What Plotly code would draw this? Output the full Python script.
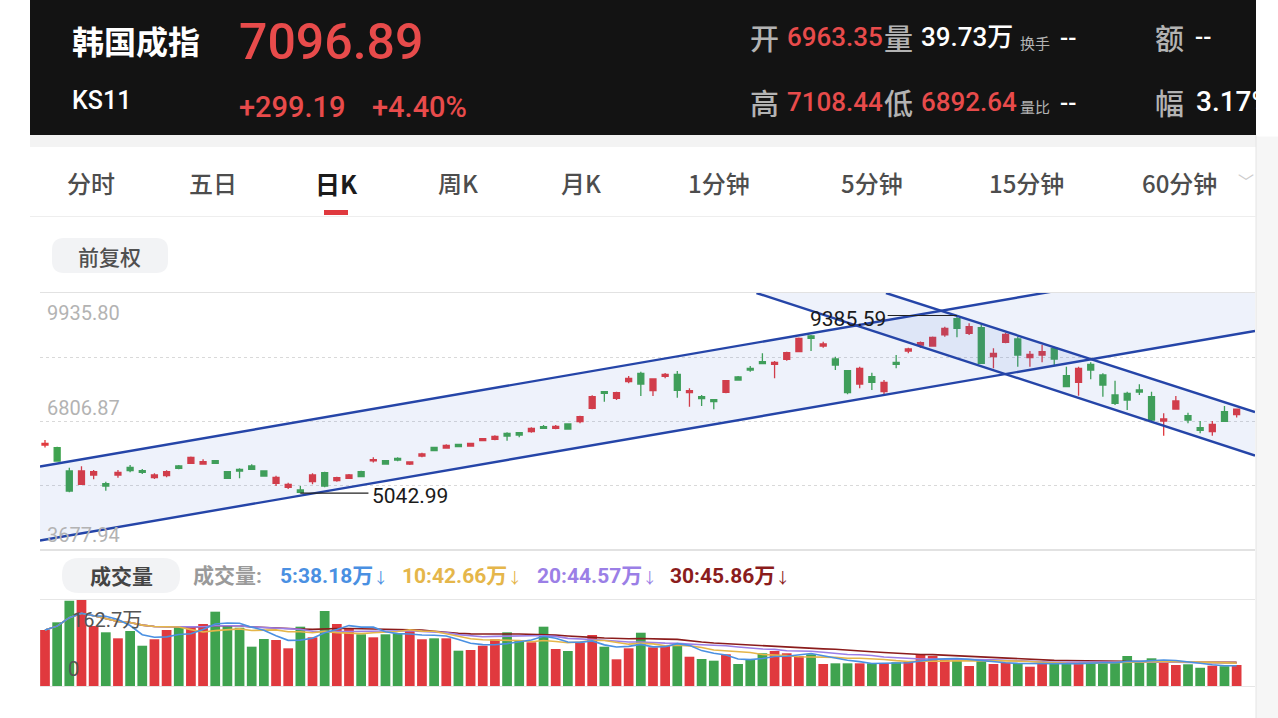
import plotly.graph_objects as go
import pandas as pd

W, H = 1278, 718

# ---------------- data ----------------
opens = [6220, 6154, 5585, 5260, 5487, 5274, 5487, 5675, 5592, 5421,
         5470, 5707, 5772, 5756, 5837, 5568, 5626, 5707, 5585, 5283,
         5186, 5120, 5323, 5544, 5348, 5405, 5568, 5830, 5837, 5895,
         5756, 5951, 6164, 6147, 6237, 6196, 6326, 6359, 6506, 6522,
         6546, 6668, 6628, 6733, 6790, 7117, 7524, 7361, 7768, 7973,
         7548, 7899, 7948, 7499, 7401, 7328, 7507, 7882, 8094, 8257,
         8192, 8315, 8502, 8885, 8640, 8323, 8036, 7711, 7890, 7524,
         8241, 8518, 8660, 8640, 8910, 9309, 8951, 9089, 8379, 8730,
         8812, 8355, 8420, 8584, 7914, 7752, 8192, 7931, 7442, 7483,
         7565, 7401, 6807, 7100, 6937, 6644, 6546, 7034, 6963.35]
highs = [6342, 6180, 5665, 5700, 5609, 5323, 5609, 5731, 5634, 5529,
         5601, 5731, 5940, 5870, 5854, 5580, 5650, 5748, 5592, 5470,
         5299, 5218, 5529, 5568, 5445, 5510, 5590, 5920, 5854, 5919,
         5821, 6032, 6180, 6237, 6253, 6277, 6391, 6457, 6530, 6538,
         6652, 6709, 6709, 6750, 6937, 7435, 7540, 7524, 7907, 8012,
         7850, 7981, 8030, 7606, 7442, 7337, 7809, 7907, 8151, 8461,
         8274, 8502, 8845, 8910, 8746, 8380, 8040, 8135, 7988, 7809,
         8420, 8600, 8750, 8870, 9113, 9385.59, 9195, 9171, 8584, 8967,
         8869, 8518, 8665, 8624, 8135, 8135, 8241, 7973, 7792, 7523,
         7704, 7524, 6994, 7418, 7010, 6807, 6807, 7173, 7108.44]
lows = [6160, 5820, 5064, 5243, 5381, 5103, 5421, 5553, 5511, 5389,
        5430, 5626, 5765, 5740, 5756, 5400, 5405, 5609, 5445, 5218,
        5145, 5042.99, 5260, 5186, 5323, 5390, 5430, 5790, 5740, 5821,
        5731, 5919, 6073, 6130, 6164, 6180, 6311, 6334, 6326, 6408,
        6522, 6611, 6603, 6603, 6750, 7093, 7279, 7320, 7728, 7418,
        7418, 7850, 7377, 7157, 7173, 7093, 7483, 7792, 8012, 8200,
        7850, 8282, 8486, 8519, 8600, 8054, 7459, 7606, 7565, 7442,
        8094, 8461, 8590, 8620, 8869, 8853, 8910, 8210, 8094, 8705,
        8135, 8135, 8241, 8160, 7630, 7426, 7825, 7401, 7198, 7076,
        7442, 6790, 6448, 7090, 6750, 6506, 6448, 6790, 6892.64]
closes = [6261, 5829, 5096, 5585, 5568, 5218, 5553, 5592, 5553, 5487,
          5568, 5650, 5919, 5812, 5772, 5405, 5585, 5626, 5462, 5430,
          5260, 5064, 5487, 5218, 5421, 5487, 5445, 5860, 5756, 5854,
          5805, 6000, 6081, 6213, 6180, 6261, 6375, 6433, 6440, 6465,
          6628, 6628, 6677, 6611, 6912, 7401, 7484, 7499, 7850, 7711,
          7833, 7948, 7557, 7548, 7352, 7279, 7792, 7809, 8054, 8208,
          8241, 8478, 8828, 8828, 8689, 8176, 7499, 8094, 7752, 7752,
          8192, 8567, 8720, 8853, 9073, 9073, 9113, 8218, 8461, 8926,
          8420, 8437, 8502, 8323, 7645, 8094, 8054, 7687, 7238, 7320,
          7516, 6831, 6856, 7296, 6831, 6579, 6726, 6797.70, 7096.89]
# volume, unit: 万
volumes = [106.0, 120.5, 161.4, 162.7, 113.5, 101.6, 90.2, 104.1, 76.2, 88.4,
           106.0, 112.2, 111.1, 117.3, 140.6, 114.1, 110.3, 74.4, 88.9, 87.0,
           71.3, 112.2, 92.1, 141.9, 117.3, 107.8, 97.8, 92.1, 97.8, 99.7,
           104.1, 88.4, 90.2, 90.2, 66.8, 68.1, 76.2, 88.4, 101.6, 85.7,
           82.7, 112.2, 70.0, 66.2, 81.9, 96.5, 74.4, 50.5, 71.3, 100.8,
           73.2, 76.2, 78.9, 55.4, 51.1, 47.9, 60.0, 41.6, 49.2, 61.9,
           66.2, 61.9, 56.8, 60.0, 41.6, 42.9, 42.9, 42.9, 42.9, 42.9,
           44.8, 46.0, 60.0, 56.8, 49.2, 47.9, 37.8, 47.9, 41.6, 44.1,
           42.9, 36.5, 42.9, 44.1, 44.1, 44.1, 44.1, 44.1, 44.1, 56.8,
           44.1, 52.4, 47.9, 39.7, 41.1, 34.5, 38.4, 37.5, 39.73]

price_top, price_bottom = 9935.80, 3677.94
price_mid = 6806.87
vol_max = 162.7
low_price, low_idx = 5042.99, 21
high_price, high_idx = 9385.59, 75

# trend channels (bar index, price)
asc_lower_x, asc_lower_y = [-0.41, 99.51], [3885.7, 9007.0]
asc_upper_x, asc_upper_y = [-0.41, 99.51], [5694.7, 10828.0]
desc_upper_x, desc_upper_y = [69.16, 99.51], [9935.8, 7026.9]
desc_lower_x, desc_lower_y = [58.51, 99.51], [9935.8, 5963.5]

tabs = ["分时", "五日", "日K", "周K", "月K", "1分钟", "5分钟", "15分钟", "60分钟"]
tab_x = [91, 213, 336, 458, 581, 719, 872, 1026, 1179]

RED = "#e0393e"
GREEN = "#3fa34f"
HRED = "#e84b4b"
LINE = "#2545a8"
CJK = "Noto Sans CJK SC"
NUM = "Roboto, Noto Sans CJK SC"

idx = list(range(len(opens)))
vcolors = [RED if c >= o else GREEN for o, c in zip(opens, closes)]
vs = pd.Series(volumes)
ma5 = vs.rolling(5, min_periods=1).mean()
ma10 = vs.rolling(10, min_periods=1).mean()
ma20 = vs.rolling(20, min_periods=1).mean()
ma30 = vs.rolling(30, min_periods=1).mean()

fig = go.Figure()

# channel fills
fill_col = "rgba(70,110,210,0.09)"
fig.add_trace(go.Scatter(
    x=asc_lower_x + asc_upper_x[::-1], y=asc_lower_y + asc_upper_y[::-1],
    fill="toself", fillcolor=fill_col, mode="lines", line=dict(width=0),
    hoverinfo="skip", xaxis="x", yaxis="y"))
fig.add_trace(go.Scatter(
    x=desc_lower_x + desc_upper_x[::-1], y=desc_lower_y + desc_upper_y[::-1],
    fill="toself", fillcolor=fill_col, mode="lines", line=dict(width=0),
    hoverinfo="skip", xaxis="x", yaxis="y"))

# candles
fig.add_trace(go.Candlestick(
    x=idx, open=opens, high=highs, low=lows, close=closes,
    increasing=dict(line=dict(color=RED, width=1.3), fillcolor=RED),
    decreasing=dict(line=dict(color=GREEN, width=1.3), fillcolor=GREEN),
    whiskerwidth=0, hoverinfo="skip", xaxis="x", yaxis="y"))

# channel lines
for xs, ys in [(asc_lower_x, asc_lower_y), (asc_upper_x, asc_upper_y),
               (desc_upper_x, desc_upper_y), (desc_lower_x, desc_lower_y)]:
    fig.add_trace(go.Scatter(x=xs, y=ys, mode="lines",
                             line=dict(color=LINE, width=2.4),
                             hoverinfo="skip", xaxis="x", yaxis="y"))

# high / low markers
fig.add_trace(go.Scatter(x=[low_idx, low_idx + 5.6], y=[low_price, low_price],
                         mode="lines", line=dict(color="#222", width=1.2),
                         hoverinfo="skip", xaxis="x", yaxis="y"))
fig.add_trace(go.Scatter(x=[high_idx - 5.7, high_idx], y=[high_price, high_price],
                         mode="lines", line=dict(color="#222", width=1.2),
                         hoverinfo="skip", xaxis="x", yaxis="y"))

# volume
fig.add_trace(go.Bar(x=idx, y=volumes, marker=dict(color=vcolors, line=dict(width=0)),
                     width=0.8, hoverinfo="skip", xaxis="x2", yaxis="y2"))
for s, col in [(ma30, "#8b1c1c"), (ma20, "#9b7fe6"), (ma10, "#e5b64a"), (ma5, "#4a90e2")]:
    fig.add_trace(go.Scatter(x=idx, y=s, mode="lines", line=dict(color=col, width=1.6),
                             hoverinfo="skip", xaxis="x2", yaxis="y2"))

def px(x):
    return x / W

def py(y):
    return 1 - y / H

xdom = [px(40), px(1255)]
xr = [-0.411, 99.51]
q = (price_top - price_bottom) / 4

fig.update_layout(
    width=W, height=H, autosize=False,
    margin=dict(l=0, r=0, t=0, b=0),
    paper_bgcolor="white", plot_bgcolor="rgba(0,0,0,0)",
    showlegend=False, dragmode=False,
    xaxis=dict(domain=xdom, range=xr, showline=True, mirror=True, linecolor="#e2e2e2",
               linewidth=1.5, showgrid=False, zeroline=False, showticklabels=False,
               ticks="", rangeslider=dict(visible=False), anchor="y", fixedrange=True),
    yaxis=dict(domain=[py(549), py(293)], range=[price_bottom, price_top],
               tickvals=[price_bottom + q, price_mid, price_bottom + 3 * q],
               showgrid=True, gridcolor="#d9d9d9", griddash="dot", gridwidth=1,
               zeroline=False, showticklabels=False, ticks="", showline=False,
               anchor="x", fixedrange=True),
    xaxis2=dict(domain=xdom, range=xr, showline=True, mirror=True, linecolor="#e6e6e6",
                linewidth=1, showgrid=False, zeroline=False, showticklabels=False,
                ticks="", anchor="y2", fixedrange=True),
    yaxis2=dict(domain=[py(686), py(600)], range=[0, vol_max], showgrid=False,
                zeroline=False, showticklabels=False, ticks="", showline=False,
                anchor="x2", fixedrange=True),
)

shapes = []

def rect(x0, y0, x1, y1, color):
    shapes.append(dict(type="rect", xref="paper", yref="paper", x0=px(x0), x1=px(x1),
                       y0=py(y1), y1=py(y0), fillcolor=color, line=dict(width=0),
                       layer="below"))

def rrect(x0, y0, x1, y1, r, color):
    rx, ry = r / W, r / H
    X0, X1, Y0, Y1 = px(x0), px(x1), py(y0), py(y1)
    path = (f"M {X0+rx},{Y0} L {X1-rx},{Y0} Q {X1},{Y0} {X1},{Y0-ry} "
            f"L {X1},{Y1+ry} Q {X1},{Y1} {X1-rx},{Y1} L {X0+rx},{Y1} "
            f"Q {X0},{Y1} {X0},{Y1+ry} L {X0},{Y0-ry} Q {X0},{Y0} {X0+rx},{Y0} Z")
    shapes.append(dict(type="path", xref="paper", yref="paper", path=path,
                       fillcolor=color, line=dict(width=0), layer="below"))

def hline(x0, x1, y, color, width=1):
    shapes.append(dict(type="line", xref="paper", yref="paper", x0=px(x0), x1=px(x1),
                       y0=py(y), y1=py(y), line=dict(color=color, width=width)))

rect(30, 0, 1256, 135, "#131313")
rect(30, 135, 1256, 147, "#f3f3f3")
rect(1256, 135, 1278, 718, "#f6f6f6")
shapes.append(dict(type="line", xref="paper", yref="paper", x0=px(1256), x1=px(1256),
                   y0=py(718), y1=py(135), line=dict(color="#e4e4e4", width=1)))
hline(30, 1256, 216.5, "#eeeeee", 1)
hline(324, 348, 212.5, RED, 5)
rrect(52, 238, 168, 273, 12, "#f2f3f5")
rrect(62, 558, 180, 593, 17, "#f2f3f5")
fig.update_layout(shapes=shapes)

def txt(x, y, s, size, color, anchor="left", family=NUM, weight=None):
    f = dict(size=size, color=color, family=family)
    if weight:
        f["weight"] = weight
    fig.add_annotation(x=px(x), y=py(y), xref="paper", yref="paper", text=s,
                       showarrow=False, xanchor=anchor, yanchor="middle", font=f)

# header
txt(70, 40, "<b>韩国成指</b>", 32, "white", family=CJK)
txt(237, 42, "7096.89", 50, HRED, weight=500)
txt(70, 100, "KS11", 25, "white", weight=500)
txt(237, 107, "+299.19", 29, HRED, weight=500)
txt(370, 107, "+4.40%", 29, HRED, weight=500)

GRAYH = "#b3b3b3"
txt(748, 37, "开", 29, GRAYH, family=CJK, weight=500)
txt(785, 37, "6963.35", 26, HRED, weight=500)
txt(882, 37, "量", 29, GRAYH, family=CJK, weight=500)
txt(919, 37, "39.73万", 26, "white", weight=500)
txt(1018, 42, "换手", 15, GRAYH, family=CJK)
txt(1058, 38, "--", 24, "white", weight=500)
txt(1153, 37, "额", 29, GRAYH, family=CJK, weight=500)
txt(1193, 37, "--", 24, "white", weight=500)

txt(748, 102, "高", 29, GRAYH, family=CJK, weight=500)
txt(785, 102, "7108.44", 26, HRED, weight=500)
txt(882, 102, "低", 29, GRAYH, family=CJK, weight=500)
txt(919, 102, "6892.64", 26, HRED, weight=500)
txt(1018, 107, "量比", 15, GRAYH, family=CJK)
txt(1058, 103, "--", 24, "white", weight=500)
txt(1153, 102, "幅", 29, GRAYH, family=CJK, weight=500)
txt(1194, 102, "3.17%", 28, "white", weight=500)
# clip at the right edge of the header
fig.add_annotation(x=px(1256), y=py(0), xref="paper", yref="paper", text=".",
                   showarrow=False, xanchor="left", yanchor="top", width=22, height=135,
                   bgcolor="white", borderpad=0, font=dict(size=4, color="white"))

# tabs
for t, x in zip(tabs, tab_x):
    if t == "日K":
        txt(x, 183, "<b>" + t + "</b>", 25, "#1b1b1b", anchor="center", family=CJK)
    else:
        txt(x, 183, t, 24, "#4d4d4d", anchor="center", family=CJK, weight=500)
txt(1246, 181, "﹀", 16, "#cccccc", anchor="center", family=CJK)
txt(110, 256, "前复权", 21, "#505050", anchor="center", family=CJK, weight=500)

# price axis labels
LBL = "#b3b3b3"
fig.add_annotation(x=px(45), y=price_top, xref="paper", yref="y", text="9935.80",
                   showarrow=False, xanchor="left", yanchor="top", yshift=-6,
                   font=dict(size=20, color=LBL, family=NUM))
fig.add_annotation(x=px(45), y=price_mid, xref="paper", yref="y", text="6806.87",
                   showarrow=False, xanchor="left", yanchor="bottom", yshift=-1,
                   font=dict(size=20, color=LBL, family=NUM))
fig.add_annotation(x=px(45), y=price_bottom, xref="paper", yref="y", text="3677.94",
                   showarrow=False, xanchor="left", yanchor="bottom", yshift=0,
                   font=dict(size=20, color=LBL, family=NUM))

# high / low labels
fig.add_annotation(x=low_idx + 5.7, y=low_price, xref="x", yref="y", text=f"{low_price:.2f}",
                   showarrow=False, xanchor="left", yanchor="middle", yshift=-3,
                   font=dict(size=21, color="#1a1a1a", family=NUM))
fig.add_annotation(x=high_idx - 5.7, y=high_price, xref="x", yref="y", text=f"{high_price:.2f}",
                   showarrow=False, xanchor="right", yanchor="middle", yshift=-3,
                   font=dict(size=21, color="#1a1a1a", family=NUM))

# volume header
ARW = "<span style='font-size:15px'>↓</span>"
txt(121, 575, "<b>成交量</b>", 21, "#444444", anchor="center", family=CJK)
txt(191, 576, "<b>成交量:</b>", 21, "#9a9a9a")
txt(278, 576, "<b>5:38.18万</b>" + ARW, 21, "#4a90e2")
txt(400, 576, "<b>10:42.66万</b>" + ARW, 21, "#e5b64a")
txt(535, 576, "<b>20:44.57万</b>" + ARW, 21, "#9b7fe6")
txt(668, 576, "<b>30:45.86万</b>" + ARW, 21, "#8b1c1c")

fig.add_annotation(x=px(70), y=vol_max, xref="paper", yref="y2", text="162.7万",
                   showarrow=False, xanchor="left", yanchor="top", yshift=-6,
                   font=dict(size=20, color="#555555", family=NUM))
fig.add_annotation(x=px(66), y=0, xref="paper", yref="y2", text="0",
                   showarrow=False, xanchor="left", yanchor="bottom", yshift=3,
                   font=dict(size=20, color="#555555", family=NUM))

fig.write_html("out.html", config={"displayModeBar": False, "staticPlot": True})
